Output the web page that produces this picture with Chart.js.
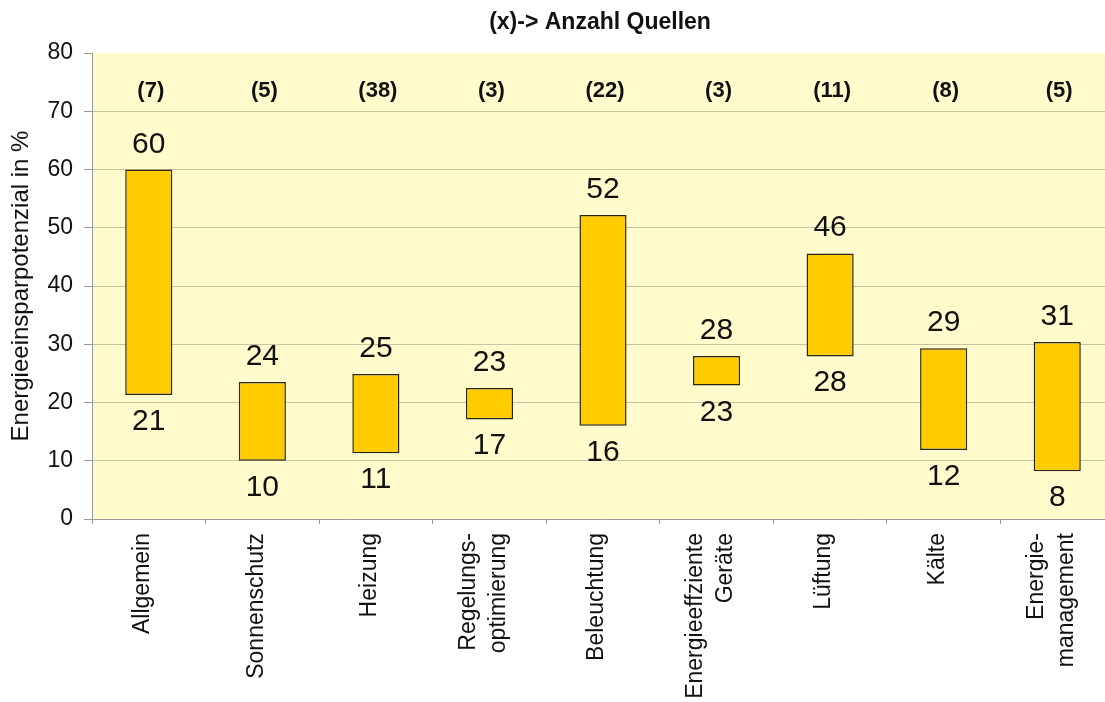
<!DOCTYPE html>
<html>
<head>
<meta charset="utf-8">
<script src="https://cdn.jsdelivr.net/npm/chart.js@4/dist/chart.umd.min.js"></script>
<style>
  html, body { margin: 0; padding: 0; background: #fff; overflow: hidden; }
  canvas { display: block; }
</style>
</head>
<body>
<canvas id="rangeChart" width="1114" height="702"></canvas>
<script>
const categories = ['Allgemein', 'Sonnenschutz', 'Heizung', ['Regelungs-', 'optimierung'], 'Beleuchtung',
  ['Energieeffziente', 'Geräte'], 'Lüftung', 'Kälte', ['Energie-', 'management']];
const sourceCounts = [7, 5, 38, 3, 22, 3, 11, 8, 5];
const lowValues = [21.3, 10, 11.3, 17.1, 16, 22.9, 27.9, 11.85, 8.2];
const highValues = [60, 23.5, 24.9, 22.5, 52.2, 28, 45.6, 29.3, 30.4];
const lowLabels = [21, 10, 11, 17, 16, 23, 28, 12, 8];
const highLabels = [60, 24, 25, 23, 52, 28, 46, 29, 31];
const yTicks = [0, 10, 20, 30, 40, 50, 60, 70, 80];

const FONT = "'Liberation Sans', Arial, sans-serif";

// yellow plot background
const plotBg = {
  id: 'plotBg',
  beforeDraw(chart) {
    const { ctx, chartArea: a } = chart;
    ctx.save();
    ctx.fillStyle = '#FFFBCD';
    ctx.fillRect(a.left, a.top, a.right - a.left, a.bottom - a.top);
    ctx.restore();
  }
};

// title, source counts, min / max labels and the rotated category names
const annotations = {
  id: 'annotations',
  afterDraw(chart) {
    const { ctx, chartArea: a } = chart;
    const x = chart.scales.x, y = chart.scales.y;
    ctx.save();
    ctx.fillStyle = '#111';
    ctx.textAlign = 'center';

    ctx.font = 'bold 23px ' + FONT;
    ctx.textBaseline = 'middle';
    ctx.fillText('(x)-> Anzahl Quellen', (a.left + a.right) / 2 - 3, 23);

    ctx.font = 'bold 22px ' + FONT;
    sourceCounts.forEach((n, i) => {
      ctx.fillText('(' + n + ')', x.getPixelForValue(i) + 2, y.getPixelForValue(73.5));
    });

    ctx.font = '30px ' + FONT;
    ctx.textBaseline = 'alphabetic';
    categories.forEach((c, i) => {
      const px = x.getPixelForValue(i);
      ctx.fillText(String(highLabels[i]), px, y.getPixelForValue(highValues[i]) - 27 + 10);
      ctx.fillText(String(lowLabels[i]), px, y.getPixelForValue(lowValues[i]) + 24 + 11);
    });

    // category names, vertical, multi-line blocks centred on the category
    ctx.font = '23px ' + FONT;
    ctx.textAlign = 'right';
    ctx.textBaseline = 'middle';
    categories.forEach((c, i) => {
      const lines = Array.isArray(c) ? c : [c];
      const px = x.getPixelForValue(i) - 6;
      lines.forEach((line, j) => {
        ctx.save();
        ctx.translate(px + (j - (lines.length - 1) / 2) * 30, a.bottom + 14);
        ctx.rotate(-Math.PI / 2);
        ctx.fillText(line, 0, 0);
        ctx.restore();
      });
    });
    ctx.restore();
  }
};

new Chart(document.getElementById('rangeChart'), {
  type: 'bar',
  data: {
    labels: categories,
    datasets: [{
      data: categories.map((c, i) => [lowValues[i], highValues[i]]),
      backgroundColor: '#FFCC00',
      borderColor: '#2a2612',
      borderWidth: 1.5,
      borderSkipped: false,
      categoryPercentage: 1,
      barPercentage: 0.415
    }]
  },
  options: {
    responsive: false,
    animation: false,
    devicePixelRatio: 1,
    layout: { padding: { top: 53, right: 0, left: 0, bottom: 0 } },
    plugins: {
      legend: { display: false },
      tooltip: { enabled: false }
    },
    scales: {
      x: {
        offset: true,
        grid: { offset: true, drawOnChartArea: false, drawTicks: true, tickLength: 5, color: '#9a9a9a' },
        border: { display: true, color: '#9a9a9a', width: 1 },
        ticks: { display: false, autoSkip: false },
        afterFit: s => { s.height = 183; }
      },
      y: {
        min: 0, max: 80,
        afterBuildTicks: s => { s.ticks = yTicks.map(v => ({ value: v })); },
        grid: {
          tickLength: 8,
          color: ctx => (ctx.tick && (ctx.tick.value === 0 || ctx.tick.value === 80)) ? 'rgba(0,0,0,0)' : '#c9c4a0',
          tickColor: '#9a9a9a'
        },
        border: { display: true, color: '#9a9a9a', width: 1 },
        ticks: { padding: 11, color: '#111', font: { family: FONT, size: 23 } },
        title: {
          display: true,
          text: 'Energieeinsparpotenzial in %',
          color: '#111',
          font: { family: FONT, size: 24 },
          padding: { top: 7, bottom: 0 }
        },
        afterFit: s => { s.width = 92; }
      }
    }
  },
  plugins: [plotBg, annotations]
});
</script>
</body>
</html>
